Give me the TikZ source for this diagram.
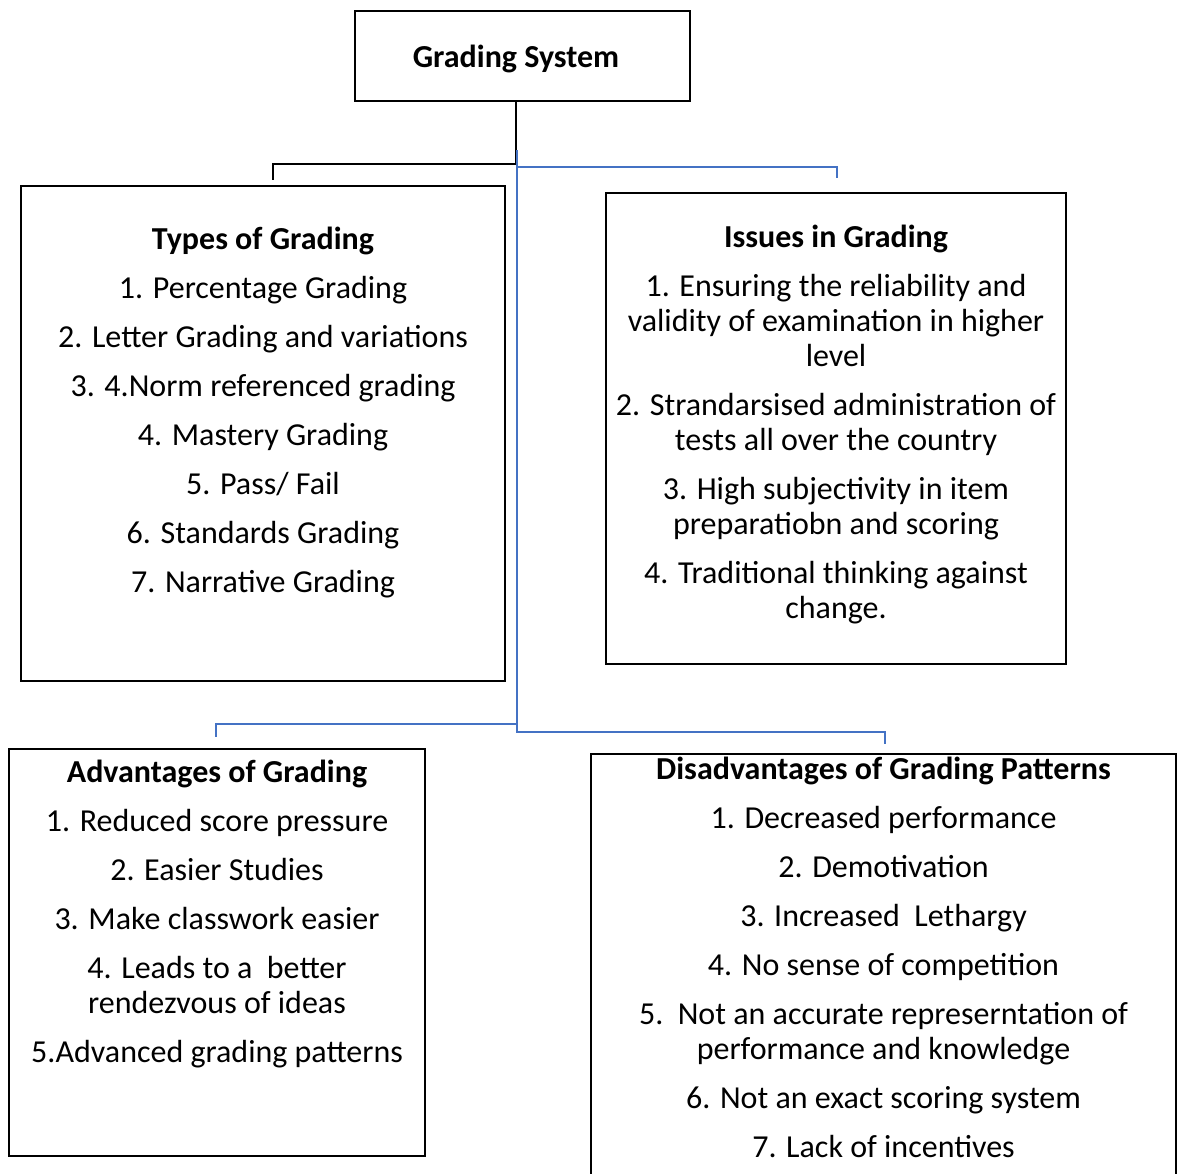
\documentclass[tikz,border=0pt]{standalone}
\usepackage{fontspec}
\setmainfont{Carlito}
\usetikzlibrary{positioning}

\definecolor{linkblue}{RGB}{68,114,196}
\newcommand{\itemgap}{\\[14pt]}

\begin{document}
\begin{tikzpicture}[
        x = 1pt, y = -1pt,
        box/.style = {draw = black, line width = 1.3pt, inner sep = 0pt},
        list/.style = {anchor = north, align = center, inner sep = 0pt,
                       font = \fontsize{32}{35}\selectfont,
                       execute at begin node = \strut},
        trunk/.style = {draw = black, line width = 1.4pt},
        branch/.style = {draw = linkblue, line width = 2pt}
    ]
      \useasboundingbox (0,0) rectangle (1182,1173);

      % boxes
      \node[box, minimum width = 335pt, minimum height = 90pt,
            font = \fontsize{32}{35}\selectfont\bfseries] (title) at (522.5,56)
            {\hspace*{-13pt}\raisebox{-3pt}[\height][\depth]{Grading System}};
      \node[box, minimum width = 484pt, minimum height = 495pt] (types) at (263,433.5) {};
      \node[box, minimum width = 460pt, minimum height = 471pt] (issues) at (836,428.5) {};
      \node[box, minimum width = 416pt, minimum height = 407pt] (adv) at (217,952.5) {};
      \node[box, minimum width = 585pt, minimum height = 426pt] (disadv) at (883.5,967) {};

      % texts
      \node[list, below = 41.5pt of types.north] (types-text) {%
        \textbf{Types of Grading}\itemgap
        1. Percentage Grading\itemgap
        2. Letter Grading and variations\itemgap
        3. 4.Norm referenced grading\itemgap
        4. Mastery Grading\itemgap
        5. Pass/ Fail\itemgap
        6. Standards Grading\itemgap
        7. Narrative Grading};
      \node[list, below = 32.5pt of issues.north] (issues-text) {%
        \textbf{Issues in Grading}\itemgap
        1. Ensuring the reliability and\\ validity of examination in higher\\ level\itemgap
        2. Strandarsised administration of\\ tests all over the country\itemgap
        3. High subjectivity in item\\ preparatiobn and scoring\itemgap
        4. Traditional thinking against\\ change.};
      \node[list, below = 11.5pt of adv.north] (adv-text) {%
        \textbf{Advantages of Grading}\itemgap
        1. Reduced score pressure\itemgap
        2. Easier Studies\itemgap
        3. Make classwork easier\itemgap
        4. Leads to a\ \ better\\ rendezvous of ideas\itemgap
        5.Advanced grading patterns};
      \node[list, below = 3.5pt of disadv.north] (disadv-text) {%
        \textbf{Disadvantages of Grading Patterns}\itemgap
        1. Decreased performance\itemgap
        2. Demotivation\itemgap
        3. Increased\ \ Lethargy\itemgap
        4. No sense of competition\itemgap
        5.\ \ Not an accurate represerntation of\\ performance and knowledge\itemgap
        6. Not an exact scoring system\itemgap
        7. Lack of incentives};

      % connectors
      \coordinate (split) at (516,164);
      \coordinate (types-in) at (273,180);
      \coordinate (spine) at (517,150);
      \coordinate (issues-in) at (837,178);
      \coordinate (adv-in) at (216,737);
      \coordinate (disadv-in) at (885,744);

      \path[trunk] (split |- title.south) -- (split) -| (types-in);
      \path[branch] (spine) -- ++(0,582) -| (disadv-in);
      \path[branch] (517,167) -| (issues-in);
      \path[branch] (517,724) -| (adv-in);
    \end{tikzpicture}
\end{document}
